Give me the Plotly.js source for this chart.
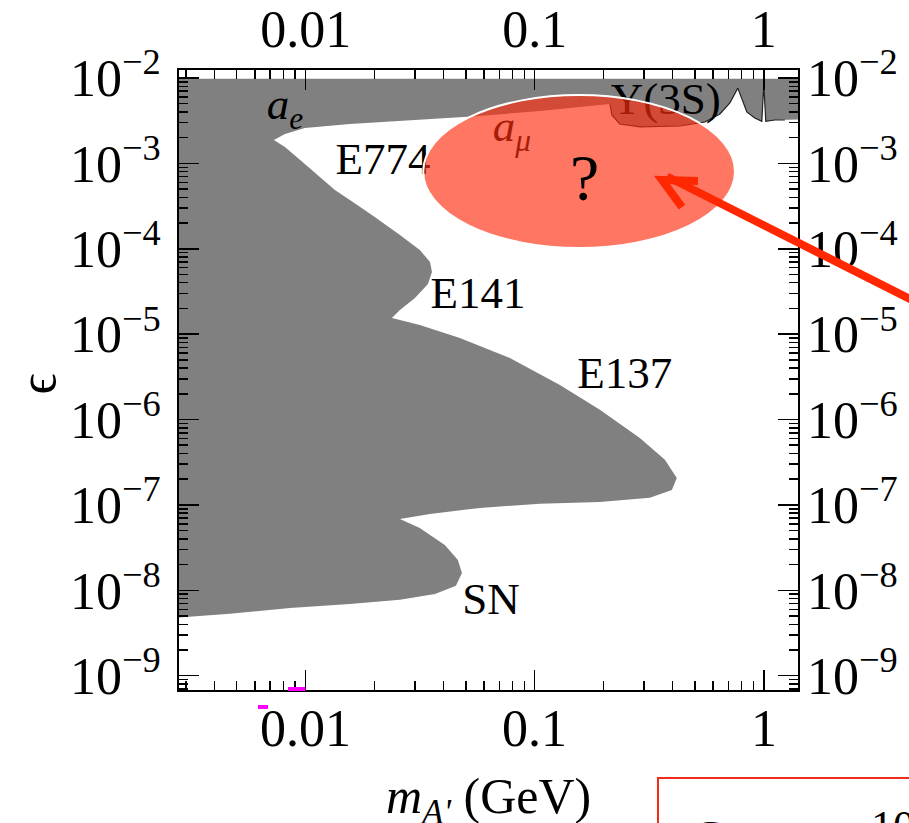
<!DOCTYPE html>
<html>
<head>
<meta charset="utf-8">
<script src="https://cdn.plot.ly/plotly-3.0.1.min.js"></script>
<style>
  html, body { margin: 0; padding: 0; background: #ffffff; }
  #chart { width: 909px; height: 823px; }
</style>
</head>
<body>
<div id="chart"></div>
<script>
// Dark-photon parameter space: mass m_A' (GeV) vs kinetic mixing epsilon.
// Excluded region boundary, traced piece by piece (mass in GeV, epsilon).

// Upsilon(3S) search, from the right edge of the plot leftwards
const upsilonMass = [2.0, 1.235, 1.117, 1.02, 1.0, 0.98, 0.913, 0.843, 0.770, 0.711, 0.643, 0.553, 0.430, 0.2876, 0.235, 0.217, 0.213];
const upsilonEps  = [3.31e-3, 3.22e-3, 3.22e-3, 3.10e-3, 8.5e-3, 3.10e-3, 3.40e-3, 4.0e-3, 7.6e-3, 5.1e-3, 3.79e-3, 3.05e-3, 2.74e-3, 2.67e-3, 2.89e-3, 3.69e-3, 4.97e-3];

// electron g-2 lower edge, right to left
const aeMass = [0.174, 0.1053, 0.0576, 0.0315, 0.0156, 0.00993, 0.00812, 0.00727];
const aeEps  = [4.70e-3, 4.11e-3, 3.59e-3, 3.22e-3, 2.89e-3, 2.60e-3, 2.21e-3, 1.88e-3];

// E774 and E141 beam dumps
const e774Mass = [0.00812, 0.00944, 0.01132, 0.01342, 0.0156, 0.01947, 0.0258, 0.0315, 0.0349, 0.0356, 0.0342, 0.030, 0.0258, 0.0238];
const e774Eps  = [1.56e-3, 1.10e-3, 7.31e-4, 4.89e-4, 3.73e-4, 2.49e-4, 1.45e-4, 9.68e-5, 7.0e-5, 5.35e-5, 3.87e-5, 2.65e-5, 1.92e-5, 1.55e-5];

// E137 beam dump
const e137Mass = [0.0315, 0.0471, 0.0779, 0.1288, 0.1925, 0.2876, 0.370, 0.417, 0.3967, 0.318, 0.1925, 0.1053, 0.0576, 0.0349, 0.0258];
const e137Eps  = [1.28e-5, 9.03e-6, 5.26e-6, 2.54e-6, 1.30e-6, 6.09e-7, 3.37e-7, 2.07e-7, 1.50e-7, 1.21e-7, 1.08e-7, 1.03e-7, 9.23e-8, 7.85e-8, 6.86e-8];

// Supernova cooling
const snMass = [0.0315, 0.0405, 0.0462, 0.0481, 0.0453, 0.0367, 0.0258, 0.0156, 0.00854, 0.00467, 0.002];
const snEps  = [5.38e-8, 3.40e-8, 2.27e-8, 1.60e-8, 1.13e-8, 9.08e-9, 7.73e-9, 6.93e-9, 6.22e-9, 5.30e-9, 4.50e-9];

// Upper corners of the excluded band
const topMass = [0.002, 2.0];
const topEps  = [0.0098, 0.0098];

// Axis ticks
const xTickVals = [0.01, 0.1, 1];
const xTickText = ['0.01', '0.1', '1'];
const yTickVals = [1e-9, 1e-8, 1e-7, 1e-6, 1e-5, 1e-4, 1e-3, 1e-2];
const yTickText = ['10<sup>−9</sup>', '10<sup>−8</sup>', '10<sup>−7</sup>', '10<sup>−6</sup>',
                   '10<sup>−5</sup>', '10<sup>−4</sup>', '10<sup>−3</sup>', '10<sup>−2</sup>'];

// Region labels
const labelText = ['<i>a</i><sub><i>e</i></sub>', 'E774', 'E141', 'E137', 'SN', 'Υ(3S)', '<i>a</i><sub><i>μ</i></sub>'];
const labelMass = [0.00812, 0.02175, 0.0565, 0.2474, 0.0644, 0.3735, 0.0795];
const labelEps  = [4.46e-3, 1.01e-3, 2.73e-5, 3.16e-6, 7.11e-9, 5.1e-3, 2.46e-3];

// minor tick positions: 2..9 within each decade
function minorTicks(lo, hi) {
  const out = [];
  for (let e = lo; e <= hi; e++) {
    for (let k = 2; k <= 9; k++) out.push(k * Math.pow(10, e));
  }
  return out;
}

const regionMass = [].concat(topMass, upsilonMass, aeMass, e774Mass, e137Mass, snMass);
const regionEps  = [].concat(topEps, upsilonEps, aeEps, e774Eps, e137Eps, snEps);

const serif = 'Liberation Serif, Times New Roman, serif';

const traces = [
  {
    type: 'scatter', mode: 'lines',
    x: regionMass, y: regionEps,
    fill: 'toself', fillcolor: '#808080',
    line: { width: 0, color: '#808080' },
    hoverinfo: 'skip', showlegend: false
  },
  {
    type: 'scatter', mode: 'lines',
    x: upsilonMass.slice(1), y: upsilonEps.slice(1),
    line: { width: 1.2, color: '#222222' },
    hoverinfo: 'skip', showlegend: false
  },
  {
    type: 'scatter', mode: 'text',
    x: labelMass, y: labelEps, text: labelText,
    textposition: 'middle center',
    textfont: { family: serif, size: 45, color: '#000000' },
    cliponaxis: false,
    hoverinfo: 'skip', showlegend: false
  },
  {
    // anchors the mirrored top/right axes
    type: 'scatter', mode: 'markers',
    x: [0.1], y: [1e-5], xaxis: 'x2', yaxis: 'y2',
    marker: { opacity: 0 }, hoverinfo: 'skip', showlegend: false
  }
];

const tickFont = { family: serif, size: 52, color: '#000000' };
const xRange = [Math.log10(0.0028), Math.log10(1.41)];
const yRange = [Math.log10(6.8e-10), Math.log10(1.24e-2)];

// bottom mass labels sit close under the frame
const bottomLabels = xTickVals.map((v, i) => ({
  xref: 'x', yref: 'paper', x: Math.log10(v), y: -0.0613,
  text: xTickText[i], showarrow: false,
  font: tickFont, xanchor: 'center', yanchor: 'middle'
}));

const layout = {
  width: 909, height: 823,
  margin: { l: 179, r: 111, t: 70, b: 133 },
  paper_bgcolor: '#ffffff', plot_bgcolor: '#ffffff',
  showlegend: false,
  xaxis: {
    type: 'log', range: xRange,
    tickmode: 'array', tickvals: xTickVals, ticktext: xTickText,
    showticklabels: false,
    ticks: 'inside', ticklen: 20, tickwidth: 1.5, tickcolor: '#000',
    minor: { tickmode: 'array', tickvals: minorTicks(-3, 0), ticks: 'inside', ticklen: 9, tickwidth: 1.5, tickcolor: '#000', showgrid: false },
    showline: true, linecolor: '#000', linewidth: 2, mirror: 'allticks',
    showgrid: false, zeroline: false
  },
  xaxis2: {
    type: 'log', range: xRange, overlaying: 'x', side: 'top',
    tickmode: 'array', tickvals: xTickVals, ticktext: xTickText,
    ticks: '', showline: false, showgrid: false, zeroline: false,
    tickfont: tickFont, ticklabelstandoff: 12
  },
  yaxis: {
    type: 'log', range: yRange,
    tickmode: 'array', tickvals: yTickVals, ticktext: yTickText,
    ticks: 'inside', ticklen: 20, tickwidth: 1.5, tickcolor: '#000',
    minor: { tickmode: 'array', tickvals: minorTicks(-10, -2), ticks: 'inside', ticklen: 9, tickwidth: 1.5, tickcolor: '#000', showgrid: false },
    showline: true, linecolor: '#000', linewidth: 2, mirror: 'allticks',
    showgrid: false, zeroline: false,
    tickfont: tickFont, ticklabelstandoff: 6
  },
  yaxis2: {
    type: 'log', range: yRange, overlaying: 'y', side: 'right',
    tickmode: 'array', tickvals: yTickVals, ticktext: yTickText,
    ticks: '', showline: false, showgrid: false, zeroline: false,
    tickfont: tickFont, ticklabelstandoff: 8
  },
  shapes: [
    // highlighted open region
    { type: 'circle', xref: 'paper', yref: 'paper', layer: 'above',
      x0: 0.3945, x1: 0.8982, y0: 0.7129, y1: 0.9597,
      fillcolor: 'rgba(255,45,15,0.65)', line: { color: '#ffffff', width: 2 } },
    // pointer arrow shaft and head
    { type: 'line', xref: 'paper', yref: 'paper', layer: 'above',
      x0: 1.2132, y0: 0.6145, x1: 0.7884, y1: 0.8282,
      line: { color: 'rgb(255,40,0)', width: 8 } },
    { type: 'path', xref: 'paper', yref: 'paper', layer: 'above',
      path: 'M 0.8384 0.8210 L 0.7803 0.8226 L 0.8126 0.7790',
      line: { color: 'rgb(255,40,0)', width: 8 } },
    // framed note below the plot
    { type: 'rect', xref: 'paper', yref: 'paper', layer: 'above',
      x0: 0.7738, x1: 1.3, y0: -0.1419, y1: -0.35,
      line: { color: 'rgb(240,45,25)', width: 2 } },
    // small magenta marks at the bottom axis
    { type: 'rect', xref: 'paper', yref: 'paper', layer: 'above',
      x0: 0.1761, x1: 0.2043, y0: -0.0016, y1: 0.0048,
      fillcolor: '#ff00ff', line: { width: 0 } },
    { type: 'rect', xref: 'paper', yref: 'paper', layer: 'above',
      x0: 0.1276, x1: 0.1438, y0: -0.0306, y1: -0.0242,
      fillcolor: '#ff00ff', line: { width: 0 } }
  ],
  annotations: bottomLabels.concat([
    { xref: 'paper', yref: 'paper', x: 0.6551, y: 0.826, text: '?', showarrow: false,
      font: { family: serif, size: 66, color: '#000' }, xanchor: 'center', yanchor: 'middle' },
    { xref: 'paper', yref: 'paper', x: 0.5, y: -0.177, text: '<i>m</i><sub><i>A\'</i></sub> (GeV)', showarrow: false,
      font: { family: serif, size: 50, color: '#000' }, xanchor: 'center', yanchor: 'middle' },
    { xref: 'paper', yref: 'paper', x: -0.228, y: 0.494, text: 'ϵ', showarrow: false, textangle: -90,
      font: { family: serif, size: 52, color: '#000' }, xanchor: 'center', yanchor: 'middle' },
    { xref: 'paper', yref: 'paper', x: 0.8546, y: -0.193, text: 'C', showarrow: false,
      font: { family: serif, size: 44, color: '#000' }, xanchor: 'center', yanchor: 'top' },
    { xref: 'paper', yref: 'paper', x: 1.1535, y: -0.177, text: '10', showarrow: false,
      font: { family: serif, size: 44, color: '#000' }, xanchor: 'center', yanchor: 'top' }
  ])
};

Plotly.newPlot('chart', traces, layout, { staticPlot: true, displayModeBar: false });
</script>
</body>
</html>
